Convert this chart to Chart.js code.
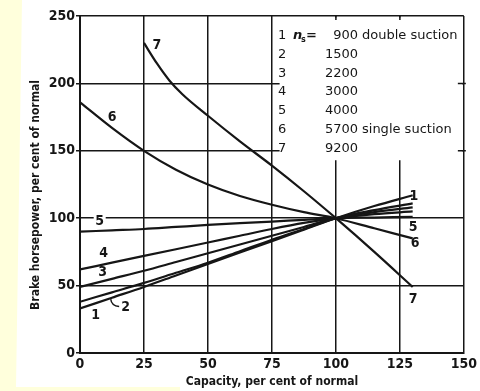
<!DOCTYPE html>
<html>
<head>
<meta charset="utf-8">
<script src="https://cdn.jsdelivr.net/npm/chart.js@4"></script>
<style>
  html, body { margin: 0; padding: 0; background: #ffffdc; }
  canvas { display: block; }
</style>
</head>
<body>
<canvas id="bhpChart" width="480" height="391"></canvas>
<script>
// capacity, per cent of normal
const capacityLow = [0, 12.5, 25, 37.5, 50, 62.5, 75, 87.5, 100, 115, 130];
const capacityHigh = [25, 30, 35, 40, 50, 62.5, 75, 87.5, 100, 115, 130];

// brake horsepower, per cent of normal, one array per specific speed
const bhp900 = [33, 41, 49, 57.5, 66, 74.5, 83, 91.5, 100, 109, 117];
const bhp1500 = [38, 45, 52, 59.5, 67, 75.5, 84, 92, 100, 106, 111];
const bhp2200 = [49, 55, 61, 67.5, 74, 80.5, 87, 93.5, 100, 104.5, 108];
const bhp3000 = [62, 67, 72, 77, 82, 87, 92, 96.5, 100, 103, 105];
const bhp4000 = [90, 91, 92, 93.5, 95, 96.3, 97.5, 98.8, 100, 100.5, 101];
const bhp5700 = [186, 167, 150, 136, 125, 116.5, 110, 104.5, 100, 92.5, 85];
const bhp9200 = [230, 215, 202, 192, 176, 157, 139, 120, 100, 75, 49];

const speeds = ['900', '1500', '2200', '3000', '4000', '5700', '9200'];
const xTicks = [0, 25, 50, 75, 100, 125, 150];
const yTicks = [0, 50, 100, 150, 200, 250];

const ink = '#161616';

function makeSeries(xs, ys) {
  return xs.map((x, i) => ({ x: x, y: ys[i] }));
}

const seriesList = [
  makeSeries(capacityLow, bhp900),
  makeSeries(capacityLow, bhp1500),
  makeSeries(capacityLow, bhp2200),
  makeSeries(capacityLow, bhp3000),
  makeSeries(capacityLow, bhp4000),
  makeSeries(capacityLow, bhp5700),
  makeSeries(capacityHigh, bhp9200)
];

// Paper: yellow page with the white scan on it
const paperPlugin = {
  id: 'paper',
  beforeDraw(chart) {
    const ctx = chart.ctx;
    ctx.save();
    ctx.fillStyle = '#ffffdc';
    ctx.fillRect(0, 0, chart.width, chart.height);
    ctx.fillStyle = '#ffffff';
    ctx.beginPath();
    ctx.moveTo(22, 0);
    ctx.lineTo(480, 0);
    ctx.lineTo(480, 391);
    ctx.lineTo(180, 391);
    ctx.lineTo(180, 387);
    ctx.lineTo(16, 387);
    ctx.closePath();
    ctx.fill();
    ctx.restore();
  }
};

// Blank out the grid behind the key, keep the small stubs on the frame
const keyAreaPlugin = {
  id: 'keyArea',
  beforeDatasetsDraw(chart) {
    const { ctx, chartArea: a, scales } = chart;
    const x0 = scales.x.getPixelForValue(78);
    const y1 = scales.y.getPixelForValue(143);
    ctx.save();
    ctx.fillStyle = '#ffffff';
    ctx.fillRect(x0, a.top + 1.5, a.right - x0 - 1.5, y1 - a.top - 1.5);
    ctx.strokeStyle = ink;
    ctx.lineWidth = 1.5;
    ctx.beginPath();
    [200, 150].forEach(v => {
      const y = scales.y.getPixelForValue(v);
      ctx.moveTo(a.right - 6, y);
      ctx.lineTo(a.right + 2, y);
    });
    [100, 125].forEach(v => {
      const x = scales.x.getPixelForValue(v);
      ctx.moveTo(x, a.top);
      ctx.lineTo(x, a.top + 4);
    });
    ctx.stroke();
    ctx.restore();
  }
};

// Curve numbers, key and axis titles
const annotatePlugin = {
  id: 'annotate',
  afterDatasetsDraw(chart) {
    const { ctx, chartArea: a, scales } = chart;
    const px = v => scales.x.getPixelForValue(v);
    const py = v => scales.y.getPixelForValue(v);
    ctx.save();
    ctx.fillStyle = ink;
    ctx.strokeStyle = ink;
    ctx.textAlign = 'center';
    ctx.textBaseline = 'middle';
    ctx.font = 'bold 14px "DejaVu Sans Condensed", "DejaVu Sans", sans-serif';

    // label 5 sits on the 100 grid line
    ctx.fillStyle = '#ffffff';
    ctx.fillRect(px(7.7) - 6, py(100) - 7, 12, 14);
    ctx.fillStyle = ink;

    const curveLabels = [
      ['7', 30, 228], ['6', 12.6, 175], ['5', 7.7, 98], ['4', 9.2, 74],
      ['3', 8.8, 60], ['2', 17.8, 34], ['1', 6.1, 28],
      ['1', 130.5, 116.5], ['5', 130.2, 93.5], ['6', 131, 81.5], ['7', 130.2, 40]
    ];
    curveLabels.forEach(([t, x, y]) => ctx.fillText(t, px(x), py(y)));

    // hook leader for curve 2
    ctx.lineWidth = 1.4;
    ctx.beginPath();
    ctx.moveTo(px(12), py(40));
    ctx.quadraticCurveTo(px(12.3), py(35), px(15.3), py(34.5));
    ctx.stroke();

    // key
    ctx.textAlign = 'left';
    ctx.textBaseline = 'alphabetic';
    ctx.font = '13px "DejaVu Sans", sans-serif';
    const kx = 278;
    const ky = 39;
    const gap = 18.8;
    speeds.forEach((s, i) => {
      const y = ky + i * gap;
      ctx.fillText(String(i + 1), kx, y);
      ctx.textAlign = 'right';
      ctx.fillText(s, 358, y);
      ctx.textAlign = 'left';
    });
    ctx.font = 'italic bold 13px "DejaVu Sans", sans-serif';
    ctx.fillText('n', 293, ky);
    ctx.font = 'bold 8px "DejaVu Sans", sans-serif';
    ctx.fillText('s', 301, ky + 3);
    ctx.font = 'bold 13px "DejaVu Sans", sans-serif';
    ctx.fillText('=', 306, ky);
    ctx.font = '13px "DejaVu Sans", sans-serif';
    ctx.fillText('double suction', 362, ky);
    ctx.fillText('single suction', 362, ky + 5 * gap);

    // axis titles
    ctx.font = 'bold 12px "DejaVu Sans Condensed", "DejaVu Sans", sans-serif';
    ctx.textAlign = 'center';
    ctx.textBaseline = 'middle';
    ctx.fillText('Capacity, per cent of normal', (a.left + a.right) / 2, 382);
    ctx.translate(36, 195);
    ctx.rotate(-Math.PI / 2);
    ctx.fillText('Brake horsepower, per cent of normal', 0, 0);
    ctx.restore();
  }
};

const datasets = seriesList.map((data, i) => ({
  label: speeds[i],
  data: data,
  borderColor: ink,
  borderWidth: 2.2,
  pointRadius: 0,
  fill: false,
  cubicInterpolationMode: 'monotone'
}));

const tickFont = { family: '"DejaVu Sans Condensed", "DejaVu Sans", sans-serif', size: 14, weight: 'bold' };

new Chart(document.getElementById('bhpChart').getContext('2d'), {
  type: 'line',
  data: { datasets: datasets },
  options: {
    responsive: false,
    devicePixelRatio: 1,
    animation: false,
    layout: { padding: { left: 0, top: 16, right: 11, bottom: 0 } },
    plugins: {
      legend: { display: false },
      tooltip: { enabled: false }
    },
    scales: {
      x: {
        type: 'linear',
        min: 0,
        max: 150,
        afterBuildTicks: scale => { scale.ticks = xTicks.map(v => ({ value: v })); },
        afterFit: scale => { scale.height = 38; },
        ticks: { color: ink, font: tickFont, padding: 3, maxRotation: 0 },
        grid: { color: ink, lineWidth: 1.5, drawTicks: false },
        border: { color: ink, width: 2 }
      },
      y: {
        type: 'linear',
        min: 0,
        max: 250,
        afterBuildTicks: scale => { scale.ticks = yTicks.map(v => ({ value: v })); },
        afterFit: scale => { scale.width = 80; },
        ticks: { color: ink, font: tickFont, padding: 1 },
        grid: { color: ink, lineWidth: 1.5, tickLength: 4 },
        border: { color: ink, width: 2 }
      }
    }
  },
  plugins: [paperPlugin, keyAreaPlugin, annotatePlugin]
});
</script>
</body>
</html>
